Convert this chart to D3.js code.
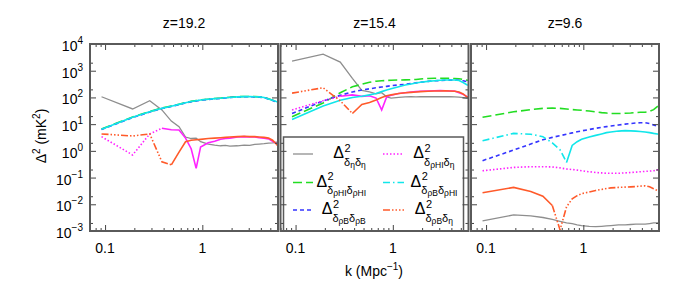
<!DOCTYPE html>
<html>
<head>
<meta charset="utf-8">
<script src="https://cdn.jsdelivr.net/npm/d3@7"></script>
<style>
  body { margin: 0; background: #fff; }
  text { font-family: "Liberation Sans", Arial, Helvetica, sans-serif; fill: #000; }
</style>
</head>
<body>
<svg id="chart" width="673" height="292"></svg>
<script>
// k bins (Mpc^-1)
var kVals = [0.092, 0.192, 0.288, 0.384, 0.48, 0.576, 0.672, 0.768, 0.864, 0.96,
             1.15, 1.34, 1.54, 1.73, 1.92, 2.3, 2.69, 3.07, 3.46, 3.84,
             4.32, 4.8, 5.28, 5.76, 6.1];

var zLabels = ["z=19.2", "z=15.4", "z=9.6"];

// one row per panel (z=19.2, 15.4, 9.6), mK^2
// negative sign = negative cross power, drawn as a solid line
var etaEta = [
  [106, 37, 75, 34, 13, 8, 3.3, 2.9, 3.0, 2.2, 1.8, 1.65, 1.55, 1.6, 1.5, 1.55, 1.65, 1.6, 1.75, 1.8, 1.85, 1.95, 2.0, 2.1, 2.1],
  [2300, 4200, 2100, 520, 185, 160, 135, 150, 105, 95, 100, 104, 106, 105, 107, 106, 108, 106, 107, 106, 105, 103, 98, 93, 92],
  [0.0024, 0.004, 0.0037, 0.0032, 0.0027, 0.0023, 0.002, 0.0019, 0.0017, 0.0016, 0.00148, 0.00145, 0.0015, 0.00155, 0.0016, 0.0017, 0.0017, 0.00175, 0.0018, 0.0018, 0.0018, 0.0019, 0.002, 0.002, 0.002]
];
var hiHi = [
  [6.6, 18.5, 29.5, 40, 48, 56, 64, 71, 76, 81, 86, 91, 94, 98, 101, 106, 108, 108, 107, 105, 100, 89, 79, 71, 67],
  [19, 62, 150, 250, 310, 370, 405, 420, 430, 440, 450, 455, 460, 470, 490, 510, 520, 520, 515, 520, 510, 500, 470, 445, 440],
  [18, 29, 35, 39, 40, 39, 37, 35, 34, 33, 31, 29, 27, 26, 25, 25, 25.5, 26, 27, 28, 28, 30, 35, 45, 52]
];
var bB = [
  [6.3, 17.5, 28.5, 38.5, 46, 54, 62, 69, 74, 79, 84, 89, 92, 96, 99, 104, 106, 106, 104, 103, 98, 87, 77, 69, 65],
  [25, 73, 120, 160, 190, 210, 230, 245, 260, 275, 295, 310, 330, 350, 370, 400, 420, 430, 440, 445, 445, 440, 420, 390, 380],
  [0.43, 1.07, 1.8, 2.6, 3.2, 3.7, 4.2, 4.7, 5.2, 5.6, 6.3, 7.0, 7.6, 8.1, 8.5, 9.3, 10, 10.5, 11, 11.3, 11.3, 10.5, 9.3, 8.3, 8.0]
];
var hiEta = [
  [3.4, 0.7, 4.3, -7.0, -6.2, -6.0, -3.0, -1.2, -0.22, -1.4, -2.0, -2.3, -2.7, -2.9, -3.0, -3.3, -3.4, -3.3, -3.3, -3.1, -3.0, -2.8, -2.3, -1.9, -1.5],
  [34, 75, -110, -125, -110, -115, -95, -34, -105, -120, -140, -150, -160, -165, -170, -175, -178, -180, -178, -175, -175, -150, -130, -108, -100],
  [0.18, 0.24, 0.255, 0.255, 0.25, 0.23, 0.21, 0.2, 0.19, 0.18, 0.165, 0.155, 0.15, 0.145, 0.145, 0.145, 0.15, 0.155, 0.16, 0.165, 0.17, 0.175, 0.18, 0.195, 0.2]
];
var bHi = [
  [-6.4, -18, -29, -39, -47, -55, -63, -70, -75, -80, -85, -90, -93, -97, -100, -105, -107, -107, -106, -105, -100, -88, -78, -70, -66],
  [-15, -48, -78, -100, -110, -125, -140, -165, -190, -210, -250, -290, -320, -345, -370, -400, -420, -440, -450, -450, -450, -430, -360, -300, -285],
  [2.4, 4.5, 4.2, 3.4, 2.0, 1.1, -0.37, -1.6, -2.2, -2.7, -3.3, -3.8, -4.3, -4.8, -5.1, -5.5, -5.7, -5.6, -5.5, -5.3, -5.1, -4.8, -4.5, -4.3, -4.2]
];
var bEta = [
  [4.3, 3.6, 4.3, 0.39, -0.30, -0.9, -2.2, -2.5, -2.6, -2.7, -2.9, -3.0, -3.1, -3.2, -3.3, -3.4, -3.5, -3.4, -3.4, -3.3, -3.2, -3.0, -2.5, -1.8, -1.4],
  [145, 230, 75, -25, -55, -65, -80, -100, -115, -125, -140, -150, -155, -160, -165, -170, -175, -175, -178, -175, -170, -160, -135, -105, -98],
  [-0.027, -0.043, -0.03, -0.02, 0.009, 0.0011, 0.008, 0.016, 0.021, 0.025, 0.029, 0.033, 0.036, 0.039, 0.041, 0.043, 0.044, 0.045, 0.046, 0.048, 0.049, 0.045, 0.038, 0.033, 0.031]
];

var xMajor = [0.1, 1];
var xMinor = [0.07, 0.08, 0.09, 0.2, 0.3, 0.4, 0.5, 0.6, 0.7, 0.8, 0.9, 2, 3, 4, 5];
var yMajor = [1e-3, 1e-2, 1e-1, 1, 10, 100, 1e3, 1e4];
var yExp = ["−3", "−2", "−1", "0", "1", "2", "3", "4"];
var yMinor = [2e-3, 2e-2, 2e-1, 2, 20, 200, 2e3];

var series = [
  { data: etaEta, color: "#8e8e8e", dash: null, width: 1.3, sub: [["δ", "η"], ["δ", "η"]] },
  { data: hiHi, color: "#22dd22", dash: "9,4", width: 1.6, sub: [["δ", "ρHI"], ["δ", "ρHI"]] },
  { data: bB, color: "#3535ff", dash: "4,3", width: 1.6, sub: [["δ", "ρB"], ["δ", "ρB"]] },
  { data: hiEta, color: "#ff22ff", dash: "1.5,2", width: 1.6, sub: [["δ", "ρHI"], ["δ", "η"]] },
  { data: bHi, color: "#11e6ea", dash: "7,3,1.5,3", width: 1.6, sub: [["δ", "ρB"], ["δ", "ρHI"]] },
  { data: bEta, color: "#ff5a2a", dash: "7,2,1.5,2,1.5,2,1.5,2", width: 1.6, sub: [["δ", "ρB"], ["δ", "η"]] }
];
// legend layout: [series index, column, row]
var legendOrder = [[0, 0, 0], [1, 0, 1], [2, 0, 2], [3, 1, 0], [4, 1, 1], [5, 1, 2]];

var svg = d3.select("#chart");
var panelW = 188, panelH = 187, plotTop = 44;
var panelX = [90, 280.5, 471];
var frameColor = "#5a5a5a";

var x = d3.scaleLog().domain([0.07, 6]).range([0, panelW]);
var y = d3.scaleLog().domain([1e-3, 1e4]).range([panelH, 0]);

function runs(vals) {
  // split into pieces of one line style; a segment takes the sign of its start point
  var out = [], cur = null;
  for (var i = 0; i < vals.length - 1; i++) {
    var neg = vals[i] < 0;
    if (!cur || cur.neg !== neg) {
      cur = { neg: neg, pts: [[kVals[i], Math.abs(vals[i])]] };
      out.push(cur);
    }
    cur.pts.push([kVals[i + 1], Math.abs(vals[i + 1])]);
  }
  return out;
}

var line = d3.line().x(function (d) { return x(d[0]); }).y(function (d) { return y(d[1]); });

function drawTicks(g) {
  var sides = [
    [d3.axisBottom, x, "translate(0," + panelH + ")"],
    [d3.axisTop, x, null],
    [d3.axisLeft, y, null],
    [d3.axisRight, y, "translate(" + panelW + ",0)"]
  ];
  sides.forEach(function (s) {
    var isX = s[1] === x;
    [[isX ? xMajor : yMajor, 6], [isX ? xMinor : yMinor, 3]].forEach(function (t) {
      var a = g.append("g").attr("transform", s[2])
        .call(s[0](s[1]).tickValues(t[0]).tickSizeInner(-t[1]).tickSizeOuter(0).tickFormat(""));
      a.select(".domain").remove();
      a.selectAll("line").attr("stroke", "#444").attr("stroke-width", 1);
    });
  });
}

zLabels.forEach(function (zl, p) {
  var g = svg.append("g").attr("transform", "translate(" + panelX[p] + "," + plotTop + ")");
  g.append("clipPath").attr("id", "clip" + p)
    .append("rect").attr("width", panelW).attr("height", panelH);

  var plot = g.append("g").attr("clip-path", "url(#clip" + p + ")");
  series.forEach(function (s) {
    runs(s.data[p]).forEach(function (r) {
      plot.append("path").attr("d", line(r.pts))
        .attr("fill", "none").attr("stroke", s.color)
        .attr("stroke-width", s.width)
        .attr("stroke-dasharray", r.neg ? null : s.dash);
    });
  });

  if (p === 1) drawLegend(g);

  drawTicks(g);
  g.append("rect").attr("width", panelW).attr("height", panelH)
    .attr("fill", "none").attr("stroke", frameColor).attr("stroke-width", 2);

  g.append("text").attr("x", panelW / 2).attr("y", -16)
    .attr("text-anchor", "middle").style("font-size", "14px").text(zl);

  xMajor.forEach(function (v) {
    g.append("text").attr("x", x(v)).attr("y", panelH + 22)
      .attr("text-anchor", "middle").style("font-size", "14px").text(String(v));
  });

  if (p === 0) {
    yMajor.forEach(function (v, i) {
      var t = g.append("text").attr("x", -7).attr("y", y(v) + 7)
        .attr("text-anchor", "end").style("font-size", "14px").text("10");
      t.append("tspan").attr("dy", -7).style("font-size", "10px").text(yExp[i]);
    });
  }
});

function drawLegend(g) {
  var lx = 283.5 - panelX[1], ly = 137 - plotTop;
  var lg = g.append("g");
  lg.append("rect").attr("x", lx).attr("y", ly)
    .attr("width", 180).attr("height", panelH - ly)
    .attr("fill", "#fff").attr("stroke", frameColor).attr("stroke-width", 1.5);

  var rowY = [154, 182.5, 210];
  var sampleX = [[293, 313], [383, 404]];
  legendOrder.forEach(function (o) {
    var s = series[o[0]], col = o[1], ry = rowY[o[2]] - plotTop;
    lg.append("line")
      .attr("x1", sampleX[col][0] - panelX[1]).attr("x2", sampleX[col][1] - panelX[1])
      .attr("y1", ry).attr("y2", ry)
      .attr("stroke", s.color).attr("stroke-width", s.width)
      .attr("stroke-dasharray", s.dash);

    var lab = lg.append("g");
    var by = ry + 4;
    var tD = lab.append("text").attr("x", 0).attr("y", by).style("font-size", "16px").text("Δ");
    var w = tD.node().getComputedTextLength();
    lab.append("text").attr("x", w + 0.5).attr("y", by - 6.5).style("font-size", "11px").text("2");
    var sub = lab.append("text").attr("x", w).attr("y", by + 7.5).style("font-size", "11px");
    s.sub.forEach(function (pair, j) {
      sub.append("tspan").attr("dy", j === 0 ? 0 : -2).style("font-size", "11px").text(pair[0]);
      sub.append("tspan").attr("dy", 2).style("font-size", "8.5px").text(pair[1]);
    });
    var bb = lab.node().getBBox();
    var xs;
    if (col === 0) xs = 366 - panelX[1] - (bb.x + bb.width);
    else xs = 434 - panelX[1] - (bb.x + bb.width / 2);
    lab.attr("transform", "translate(" + xs + ",0)");
  });
}

// axis titles
var xt = svg.append("text").attr("x", 374).attr("y", 276)
  .attr("text-anchor", "middle").style("font-size", "14px").text("k (Mpc");
xt.append("tspan").attr("dy", -6).style("font-size", "10px").text("−1");
xt.append("tspan").attr("dy", 6).text(")");

var yt = svg.append("text").attr("transform", "translate(46,136) rotate(-90)")
  .attr("text-anchor", "middle").style("font-size", "14px").text("Δ");
yt.append("tspan").attr("dy", -6).style("font-size", "10px").text("2");
yt.append("tspan").attr("dy", 6).text(" (mK");
yt.append("tspan").attr("dy", -6).style("font-size", "10px").text("2");
yt.append("tspan").attr("dy", 6).text(")");
</script>
</body>
</html>
